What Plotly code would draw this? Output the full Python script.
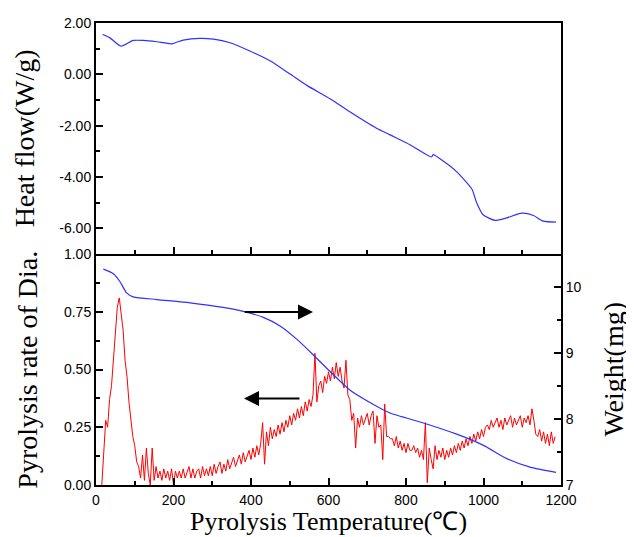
import plotly.graph_objects as go

# ---------------- data ----------------
hf_temp = [17, 36, 64, 96, 122, 157, 195, 225, 268, 303, 346, 397, 449, 501, 544, 604, 655,
           724, 759, 810, 866, 870, 896, 931, 970, 982, 999, 1030, 1060, 1099, 1129, 1154, 1187]
hf_val = [1.55, 1.42, 1.10, 1.32, 1.32, 1.27, 1.19, 1.33, 1.40, 1.37, 1.23, 0.91, 0.53, 0.01,
          -0.43, -0.95, -1.46, -2.10, -2.36, -2.74, -3.22, -3.13, -3.38, -3.80, -4.47, -4.99,
          -5.47, -5.69, -5.59, -5.41, -5.50, -5.72, -5.76]

wt_temp = [19, 45, 62, 79, 96, 157, 243, 328, 380, 432, 475, 518, 561, 604, 655, 716, 759,
           845, 931, 1000, 1060, 1120, 1187]
wt_val = [10.27, 10.20, 10.08, 9.91, 9.85, 9.81, 9.76, 9.69, 9.63, 9.54, 9.41, 9.21, 8.97,
          8.72, 8.44, 8.22, 8.09, 7.94, 7.77, 7.60, 7.40, 7.27, 7.19]

rate_temp = list(range(15, 1190, 5))
rate_val = [
    0.00, 0.13, 0.28, 0.25, 0.37, 0.43, 0.56, 0.65, 0.77, 0.81,
    0.73, 0.67, 0.54, 0.47, 0.36, 0.29, 0.21, 0.17, 0.10, 0.08,
    0.03, 0.13, 0.02, 0.16, 0.05, 0.00, 0.16, 0.02, 0.08, 0.03,
    0.06, 0.02, 0.07, 0.03, 0.06, 0.02, 0.07, 0.00, 0.06, 0.03,
    0.06, 0.03, 0.07, 0.03, 0.06, 0.08, 0.03, 0.07, 0.03, 0.06,
    0.07, 0.03, 0.08, 0.04, 0.07, 0.04, 0.08, 0.04, 0.09, 0.05,
    0.08, 0.10, 0.05, 0.09, 0.06, 0.11, 0.07, 0.10, 0.12, 0.08,
    0.11, 0.13, 0.09, 0.14, 0.10, 0.13, 0.15, 0.11, 0.16, 0.12,
    0.17, 0.13, 0.18, 0.27, 0.09, 0.23, 0.17, 0.25, 0.20, 0.24,
    0.21, 0.26, 0.22, 0.27, 0.23, 0.28, 0.25, 0.30, 0.26, 0.31,
    0.28, 0.33, 0.29, 0.34, 0.30, 0.36, 0.32, 0.37, 0.34, 0.39,
    0.57, 0.36, 0.43, 0.45, 0.40, 0.47, 0.44, 0.49, 0.45, 0.51,
    0.46, 0.53, 0.47, 0.51, 0.45, 0.42, 0.54, 0.39, 0.37, 0.28,
    0.31, 0.16, 0.29, 0.25, 0.30, 0.26, 0.29, 0.31, 0.26, 0.30,
    0.32, 0.18, 0.30, 0.25, 0.26, 0.11, 0.35, 0.21, 0.21, 0.20,
    0.20, 0.17, 0.21, 0.16, 0.19, 0.15, 0.18, 0.14, 0.18, 0.15,
    0.15, 0.17, 0.14, 0.16, 0.12, 0.15, 0.11, 0.27, 0.01, 0.16,
    0.11, 0.07, 0.17, 0.11, 0.15, 0.12, 0.16, 0.11, 0.15, 0.12,
    0.16, 0.13, 0.17, 0.14, 0.18, 0.15, 0.19, 0.16, 0.20, 0.17,
    0.21, 0.18, 0.22, 0.19, 0.23, 0.20, 0.24, 0.21, 0.25, 0.26,
    0.24, 0.28, 0.25, 0.27, 0.29, 0.25, 0.28, 0.24, 0.29, 0.26,
    0.28, 0.30, 0.25, 0.29, 0.26, 0.28, 0.30, 0.25, 0.29, 0.27,
    0.30, 0.26, 0.33, 0.28, 0.22, 0.21, 0.24, 0.19, 0.23, 0.18,
    0.22, 0.17, 0.23, 0.18, 0.21,
]

hf_ticks = [2, 0, -2, -4, -6]
hf_ticktext = ["2.00", "0.00", "-2.00", "-4.00", "-6.00"]
rate_ticks = [0, 0.25, 0.5, 0.75, 1.0]
rate_ticktext = ["0.00", "0.25", "0.50", "0.75", "1.00"]
wt_ticks = [7, 8, 9, 10]
x_ticks = [0, 200, 400, 600, 800, 1000, 1200]

# arrows (data coords): tail x, head x, y on rate axis
arrow_right = (380, 560, 0.749)
arrow_left = (529, 382, 0.374)

# ---------------- figure ----------------
BLUE = "#3030ff"
RED = "#ff0000"
tickfont = dict(family="Liberation Sans, Arial", size=14, color="black")
titlefont = dict(family="Liberation Serif, Times New Roman", size=28, color="black")

fig = go.Figure()
fig.add_trace(go.Scatter(x=hf_temp, y=hf_val, mode="lines", xaxis="x2", yaxis="y2",
                         line=dict(color=BLUE, width=1.2, shape="spline", smoothing=0.6),
                         showlegend=False))
fig.add_trace(go.Scatter(x=rate_temp, y=rate_val, mode="lines", xaxis="x", yaxis="y",
                         line=dict(color=RED, width=1), showlegend=False))
fig.add_trace(go.Scatter(x=wt_temp, y=wt_val, mode="lines", xaxis="x", yaxis="y3",
                         line=dict(color=BLUE, width=1.2, shape="spline", smoothing=0.6),
                         showlegend=False))

common_axis = dict(showline=True, linewidth=2, linecolor="black", ticks="inside",
                   tickwidth=2, tickcolor="black", ticklen=7, showgrid=False,
                   zeroline=False, tickfont=tickfont)
minor_style = dict(ticks="inside", ticklen=4, tickwidth=2, tickcolor="black", showgrid=False)

fig.update_layout(
    width=626, height=529,
    margin=dict(l=88, r=73, t=7, b=52),
    paper_bgcolor="white", plot_bgcolor="white",
    xaxis=dict(common_axis, domain=[0, 1], anchor="y", range=[0, 1200],
               tickvals=x_ticks, mirror=False, ticklabelstandoff=1,
               minor=dict(minor_style, dtick=100, tick0=0)),
    xaxis2=dict(common_axis, domain=[0, 1], anchor="y2", range=[0, 1200],
                tickvals=x_ticks, showticklabels=False, mirror=True,
                minor=dict(minor_style, dtick=100, tick0=0)),
    yaxis=dict(common_axis, domain=[0, 0.5], anchor="x", range=[0, 1],
               tickvals=rate_ticks, ticktext=rate_ticktext,
               minor=dict(minor_style, dtick=0.125, tick0=0)),
    yaxis2=dict(common_axis, domain=[0.5, 1], anchor="x2", range=[-7, 2],
                tickvals=hf_ticks, ticktext=hf_ticktext, mirror=True,
                minor=dict(minor_style, dtick=1, tick0=0)),
    yaxis3=dict(common_axis, anchor="x", overlaying="y", side="right", range=[7, 10.5],
                tickvals=wt_ticks,
                minor=dict(minor_style, dtick=0.5, tick0=7)),
)

# arrows
for tail_x, head_x, yy in (arrow_right, arrow_left):
    fig.add_annotation(x=head_x, y=yy, ax=tail_x, ay=yy, xref="x", yref="y",
                       axref="x", ayref="y", text="", showarrow=True,
                       arrowhead=2, arrowsize=1.5, arrowwidth=2, arrowcolor="black")

# axis titles
fig.add_annotation(text="Heat flow(W/g)", xref="paper", yref="paper", x=-0.153, y=0.75,
                   textangle=-90, showarrow=False, font=titlefont,
                   xanchor="center", yanchor="middle")
fig.add_annotation(text="Pyrolysis rate of Dia.", xref="paper", yref="paper", x=-0.148, y=0.25,
                   textangle=-90, showarrow=False, font=titlefont,
                   xanchor="center", yanchor="middle")
fig.add_annotation(text="Weight(mg)", xref="paper", yref="paper", x=1.112, y=0.25,
                   textangle=-90, showarrow=False, font=titlefont,
                   xanchor="center", yanchor="middle")
fig.add_annotation(text="Pyrolysis Temperature(℃)", xref="paper", yref="paper", x=0.5,
                   y=-0.079, showarrow=False, font=dict(titlefont, size=26),
                   xanchor="center", yanchor="middle")

fig.write_html("out.html")
